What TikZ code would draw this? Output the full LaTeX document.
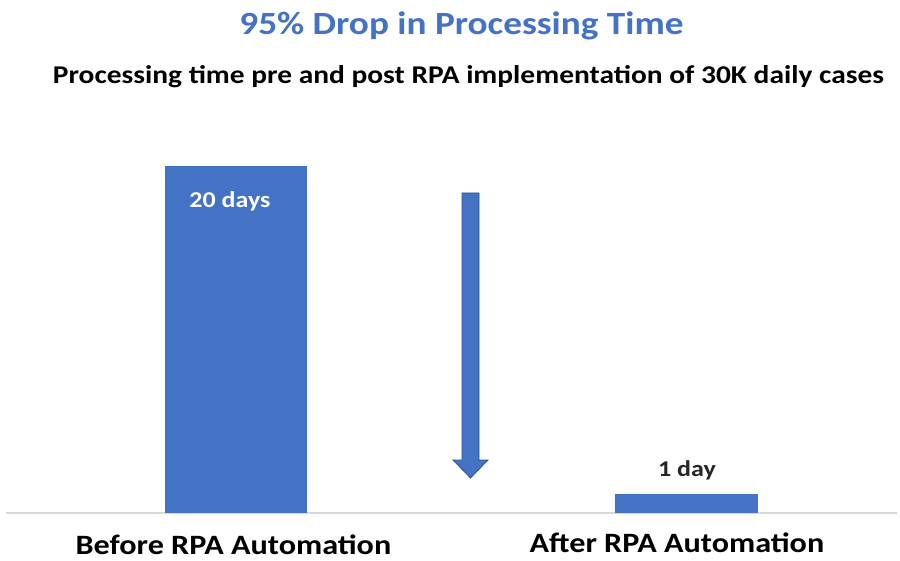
\documentclass[tikz,border=0pt]{standalone}
\usepackage{fontspec}
\setmainfont{Carlito}[FakeStretch=1.15]
\definecolor{barblue}{HTML}{4472C4}
\definecolor{edgeblue}{HTML}{2F528F}
\definecolor{axisgray}{HTML}{D9D9D9}
\begin{document}
\begin{tikzpicture}[x=1pt,y=-1pt,
  bar/.style={fill=barblue,draw=none},
  valuelabel/.style={font=\bfseries\fontsize{22.6}{26}\selectfont,inner sep=0pt,anchor=base},
  catlabel/.style={font=\bfseries\fontsize{28}{32}\selectfont,inner sep=0pt,text=black,anchor=base},
  ]
\useasboundingbox (0,0) rectangle (900,561);
% headings
\node[font=\bfseries\fontsize{32.4}{36}\selectfont,text=barblue,inner sep=0pt,anchor=base] (title) at (461.5,35) {95\% Drop in Processing Time};
\node[font=\bfseries\fontsize{25.6}{30}\selectfont,inner sep=0pt,anchor=base] (subtitle) at (468.5,83.3) {Processing time pre and post RPA implementation of 30K daily cases};
% baseline of the chart
\draw[axisgray,line width=1.2pt] (6,513) coordinate (axl) -- (897,513) coordinate (axr);
% bars
\fill[bar] (165,166) rectangle (307,513);
\fill[bar] (615,494) rectangle (758,513);
\node[valuelabel,text=white] (v1) at (230,208) {20 days};
\node[valuelabel,text=black!85] (v2) at (687,476) {1 day};
% drop arrow
\draw[edgeblue,fill=barblue,line width=0.8pt]
  (462,193) -- (479,193) -- (479,460) -- (488,460) -- (470.5,478) -- (453,460) -- (462,460) -- cycle;
% categories
\node[catlabel] (c1) at (233.5,554.5) {Before RPA Automation};
\node[catlabel] (c2) at (677,552.5) {After RPA Automation};
\end{tikzpicture}
\end{document}
